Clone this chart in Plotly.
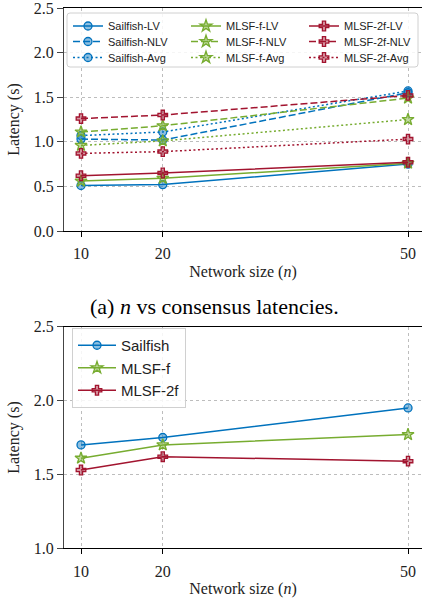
import plotly.graph_objects as go

# ---------------- data ----------------
network_size = [10, 20, 50]

# (a) consensus latencies (s)
sailfish_lv = [0.51, 0.52, 0.75]
sailfish_nlv = [1.03, 1.02, 1.55]
sailfish_avg = [1.07, 1.11, 1.57]
mlsf_f_lv = [0.56, 0.59, 0.76]
mlsf_f_nlv = [1.11, 1.18, 1.49]
mlsf_f_avg = [0.96, 1.01, 1.25]
mlsf_2f_lv = [0.62, 0.65, 0.77]
mlsf_2f_nlv = [1.26, 1.30, 1.52]
mlsf_2f_avg = [0.87, 0.89, 1.03]

# (b) latencies (s)
sailfish_b = [1.70, 1.75, 1.95]
mlsf_f_b = [1.61, 1.70, 1.77]
mlsf_2f_b = [1.53, 1.62, 1.59]

# ---------------- styles ----------------
W, H = 422, 600
L = 64
BLUE, GREEN, RED = "#0072BD", "#77AC30", "#A2142F"
FILL = {BLUE: "rgba(0,114,189,0.45)", GREEN: "rgba(119,172,48,0.45)", RED: "rgba(162,20,47,0.45)"}
SYM = {BLUE: "circle", GREEN: "star", RED: "cross"}
SIZE = {BLUE: 8, GREEN: 9, RED: 8}
DASH = {"solid": "solid", "dash": "7px,3px", "dot": "2px,2.5px"}
SERIF = "Liberation Serif"
SANS = "Liberation Sans"


def py(px):
    return 1 - px / H


def pxx(px):
    return (px - L) / (W - L)


fig = go.Figure()
legends = {}

# top legend grid: columns (legend left px) x rows (row centre px)
COLS = [68, 186, 304]
ROWS = [26, 41.5, 57.5]
small_leg = dict(orientation="v", xanchor="left", yanchor="middle", traceorder="normal",
                 font=dict(family=SANS, size=11, color="#222"),
                 bgcolor="rgba(0,0,0,0)", borderwidth=0, itemwidth=30)


def add(y, name, color, dash, xa, ya, legend):
    fig.add_trace(go.Scatter(
        x=network_size, y=y, name=name, mode="lines+markers",
        xaxis=xa, yaxis=ya, legend=legend,
        line=dict(color=color, width=1.5, dash=DASH[dash]),
        marker=dict(symbol=SYM[color], size=SIZE[color], color=FILL[color],
                    line=dict(color=color, width=1.3)),
    ))


top_series = [
    (sailfish_lv, "Sailfish-LV", BLUE, "solid", 0, 0),
    (sailfish_nlv, "Sailfish-NLV", BLUE, "dash", 0, 1),
    (sailfish_avg, "Sailfish-Avg", BLUE, "dot", 0, 2),
    (mlsf_f_lv, "MLSF-f-LV", GREEN, "solid", 1, 0),
    (mlsf_f_nlv, "MLSF-f-NLV", GREEN, "dash", 1, 1),
    (mlsf_f_avg, "MLSF-f-Avg", GREEN, "dot", 1, 2),
    (mlsf_2f_lv, "MLSF-2f-LV", RED, "solid", 2, 0),
    (mlsf_2f_nlv, "MLSF-2f-NLV", RED, "dash", 2, 1),
    (mlsf_2f_avg, "MLSF-2f-Avg", RED, "dot", 2, 2),
]
leg_names = ["legend"] + [f"legend{i}" for i in range(3, 11)]
for (vals, name, color, dash, c, r), lg in zip(top_series, leg_names):
    add(vals, name, color, dash, "x", "y", lg)
    legends[lg] = dict(small_leg, x=pxx(COLS[c]), y=py(ROWS[r]))

add(sailfish_b, "Sailfish", BLUE, "solid", "x2", "y2", "legend2")
add(mlsf_f_b, "MLSF-f", GREEN, "solid", "x2", "y2", "legend2")
add(mlsf_2f_b, "MLSF-2f", RED, "solid", "x2", "y2", "legend2")

xcommon = dict(
    range=[7.92, 51.71], tickvals=network_size, ticktext=[str(v) for v in network_size],
    showline=True, linecolor="black", linewidth=1.3, mirror=True, automargin=False,
    ticks="outside", ticklen=5, tickcolor="black", tickwidth=1,
    ticklabelstandoff=3, ticklabeloverflow="allow",
    showgrid=True, gridcolor="#bdbdbd", griddash="3px,3px", gridwidth=1,
    zeroline=False, tickfont=dict(family=SERIF, size=16, color="#222"),
    title=dict(text="Network size (<i>n</i>)", font=dict(family=SERIF, size=16, color="#222"), standoff=4),
)
ycommon = dict(
    showline=True, linecolor="#444", linewidth=1, mirror=False, automargin=False,
    ticks="outside", ticklen=6, tickcolor="#444", tickwidth=1, ticklabeloverflow="allow",
    showgrid=True, gridcolor="#bdbdbd", griddash="3px,3px", gridwidth=1,
    zeroline=False, tickfont=dict(family=SERIF, size=16, color="#222"), tickformat=".1f",
    title=dict(text="Latency (s)", font=dict(family=SERIF, size=16, color="#222"), standoff=10),
)


def rounded_box(x0, y0, x1, y1, r=3):
    # pixel box -> paper path with small rounded corners
    X0, X1 = pxx(x0), pxx(x1)
    Y0, Y1 = py(y0), py(y1)
    rx, ry = r / (W - L), r / H
    return (f"M{X0+rx},{Y0} L{X1-rx},{Y0} Q{X1},{Y0} {X1},{Y0-ry} "
            f"L{X1},{Y1+ry} Q{X1},{Y1} {X1-rx},{Y1} L{X0+rx},{Y1} "
            f"Q{X0},{Y1} {X0},{Y1+ry} L{X0},{Y0-ry} Q{X0},{Y0} {X0+rx},{Y0} Z")


fig.update_layout(
    width=W, height=H, margin=dict(l=L, r=0, t=0, b=0, autoexpand=False),
    paper_bgcolor="white", plot_bgcolor="white", showlegend=True,
    xaxis=dict(xcommon, domain=[0, 1], anchor="y"),
    yaxis=dict(ycommon, domain=[py(231), py(8)], range=[0, 2.5], dtick=0.5, anchor="x"),
    xaxis2=dict(xcommon, domain=[0, 1], anchor="y2"),
    yaxis2=dict(ycommon, domain=[py(548.3), py(326.7)], range=[1.0, 2.5], dtick=0.5, anchor="x2"),
    legend2=dict(
        orientation="v", x=pxx(72), y=py(328), xanchor="left", yanchor="top",
        traceorder="normal", font=dict(family=SANS, size=15, color="#222"),
        bgcolor="rgba(255,255,255,0.85)", bordercolor="#d0d0d0", borderwidth=1,
        itemwidth=38,
    ),
    shapes=[dict(type="path", xref="paper", yref="paper", layer="above",
                 path=rounded_box(67, 13, 418, 67),
                 fillcolor="rgba(255,255,255,0.85)", line=dict(color="#d0d0d0", width=1))],
    annotations=[dict(
        text="(a) <i>n</i> vs consensus latencies.", xref="paper", yref="paper",
        x=pxx(214), y=py(306), xanchor="center", yanchor="middle", showarrow=False,
        font=dict(family=SERIF, size=22, color="black"),
    )],
)
fig.update_layout(**legends)

fig.write_html(
    "out.html",
    config={"displayModeBar": False},
    post_script="document.body.style.margin='0';document.body.style.overflow='hidden';",
)
